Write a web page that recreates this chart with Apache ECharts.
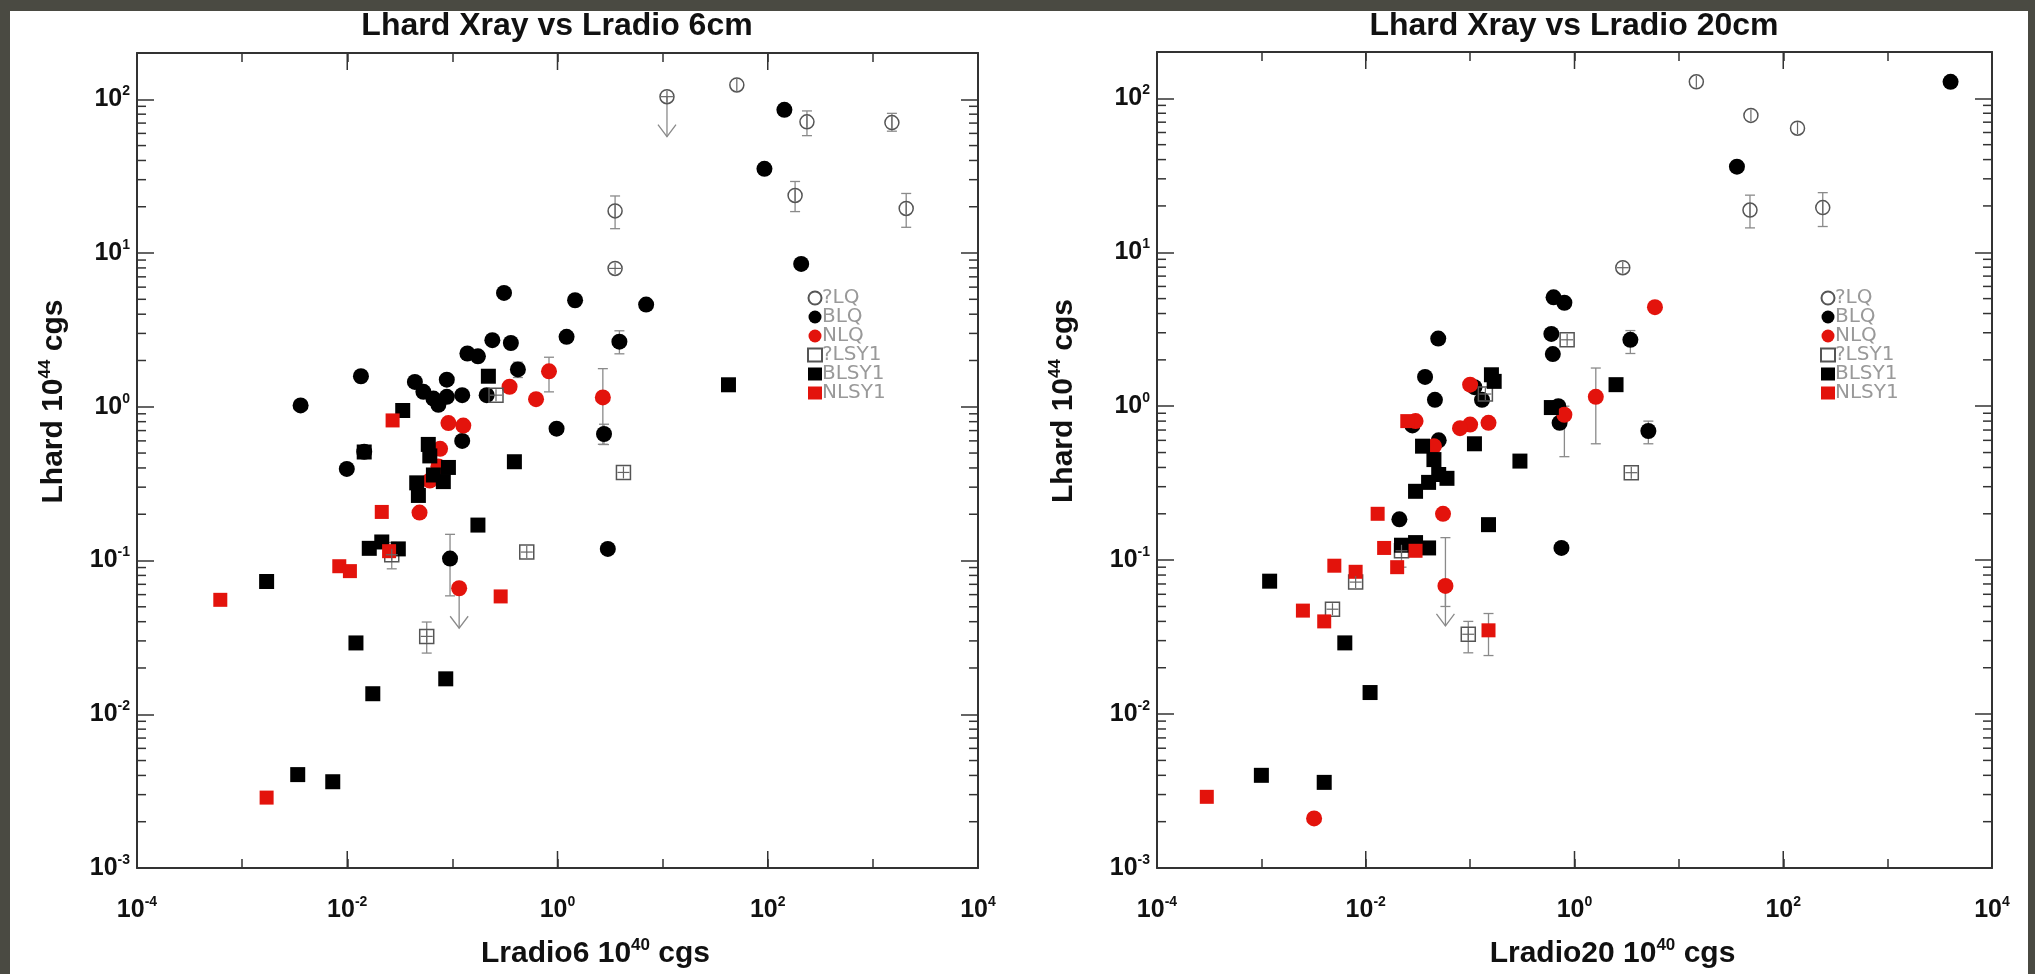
<!DOCTYPE html>
<html><head><meta charset="utf-8">
<script src="https://cdn.jsdelivr.net/npm/echarts@6/dist/echarts.min.js"></script>
<style>
html,body{margin:0;padding:0;width:2035px;height:974px;background:#4a4a42;overflow:hidden}
#paper{position:absolute;left:10px;top:11px;width:2018px;height:963px;background:#fff}
#chart{position:absolute;left:0;top:0;width:2035px;height:974px}
</style></head><body><div id="paper"></div><div id="chart"></div>
<script>
// ---------- data: Lhard (1e44 cgs) vs Lradio (1e40 cgs) ----------
const seriesNames = ['?LQ', 'BLQ', 'NLQ', '?LSY1', 'BLSY1', 'NLSY1'];
const titles = ['Lhard Xray vs Lradio 6cm', 'Lhard Xray vs Lradio 20cm'];
const xTitles = ['Lradio6 10', 'Lradio20 10'];
const xTitleExp = '40';
const yTitle = 'Lhard 10';
const yTitleExp = '44';

// 6 cm panel
const LQ6 = [[11.0,104],[50.8,124],[236,71.3],[1517,70.5],[182,23.7],[2075,19.5],[3.53,18.8],[3.53,7.94]];
const BLQ6 = [[144,85.4],[93,35.3],[208,8.5],[0.31,5.5],[1.47,4.93],[6.97,4.62],[1.22,2.85],[3.88,2.65],[0.24,2.71],[0.36,2.6],[0.139,2.22],[0.175,2.13],[0.42,1.75],[0.98,0.72],[2.77,0.665],[0.212,1.19],[0.124,1.19],[0.0885,1.5],[0.044,1.45],[0.053,1.25],[0.066,1.13],[0.0736,1.03],[0.0885,1.16],[0.124,0.6],[0.0135,1.58],[0.0036,1.02],[0.0099,0.394],[0.0145,0.51],[0.095,0.103],[3.01,0.119]];
const NLQ6 = [[0.83,1.70],[0.35,1.35],[0.625,1.12],[2.7,1.15],[0.0917,0.783],[0.127,0.754],[0.0764,0.533],[0.0736,0.409],[0.061,0.331],[0.0487,0.205],[0.116,0.066]];
const QLSY6 = [[0.26,1.19],[4.24,0.374],[0.51,0.1135],[0.0265,0.109],[0.057,0.0321]];
const BLSY6 = [[42.3,1.39],[0.22,1.58],[0.0337,0.946],[0.0145,0.508],[0.389,0.439],[0.059,0.569],[0.061,0.479],[0.0917,0.403],[0.0458,0.32],[0.082,0.326],[0.0475,0.265],[0.066,0.36],[0.175,0.17],[0.0162,0.12],[0.0213,0.132],[0.0306,0.119],[0.00171,0.073],[0.0121,0.0291],[0.0865,0.017],[0.0175,0.0136],[0.00338,0.00405],[0.00728,0.00364]];
const NLSY6 = [[0.027,0.815],[0.0213,0.207],[0.0084,0.0918],[0.0106,0.0853],[0.00062,0.0555],[0.288,0.0584],[0.00171,0.00287],[0.025,0.115]];
// error bars [x, y, low, high]
const ERR6 = [[236,71.3,58,84],[1517,70.5,62,81],[182,23.7,18.6,29.2],[2075,19.5,14.7,24.4],[3.53,18.8,14.4,23.5],[3.88,2.65,2.21,3.12],[0.83,1.70,1.25,2.1],[2.7,1.15,0.57,1.77],[2.77,0.665,0.568,0.77],[0.42,1.75,1.55,1.95],[0.095,0.103,0.0589,0.148],[0.0265,0.109,0.0883,0.131],[0.057,0.0321,0.025,0.0398]];
// upper limits [x, y]
const ULIM6 = [[11.0,104],[0.116,0.066]];
// open symbols drawn with a horizontal bar inside ([x, y])
const PLUS6 = [[11.0,104],[3.53,7.94]];

// 20 cm panel
const LQ20 = [[14.7,128],[49,77.5],[137,64],[2.9,7.94],[48,18.8],[239,19.5]];
const BLQ20 = [[4010,128],[36,36],[0.63,5.1],[0.8,4.7],[0.0495,2.75],[0.6,2.95],[0.62,2.18],[3.43,2.7],[0.11,1.33],[0.037,1.55],[0.13,1.1],[5.1,0.69],[0.75,0.12],[0.021,0.184],[0.7,1.0],[0.72,0.78],[0.028,0.75],[0.046,1.1],[0.05,0.6]];
const NLQ20 = [[5.9,4.4],[0.1,1.38],[0.15,0.78],[1.6,1.15],[0.1,0.76],[0.08,0.72],[0.045,0.55],[0.055,0.2],[0.058,0.068],[0.0032,0.0021],[0.8,0.88],[0.03,0.8]];
const QLSY20 = [[0.14,1.2],[0.85,2.7],[3.5,0.37],[0.022,0.115],[0.0048,0.048],[0.008,0.072],[0.096,0.033]];
const BLSY20 = [[2.5,1.38],[0.6,0.98],[0.11,0.57],[0.16,1.6],[0.17,1.45],[0.035,0.55],[0.04,0.32],[0.05,0.36],[0.06,0.34],[0.045,0.45],[0.03,0.28],[0.022,0.125],[0.03,0.13],[0.04,0.12],[0.15,0.17],[0.3,0.44],[0.0012,0.073],[0.0063,0.029],[0.011,0.0138],[0.001,0.004],[0.004,0.0036]];
const NLSY20 = [[0.0003,0.0029],[0.0025,0.047],[0.004,0.04],[0.005,0.092],[0.008,0.084],[0.015,0.12],[0.02,0.09],[0.15,0.035],[0.013,0.2],[0.025,0.8],[0.03,0.115]];
const ERR20 = [[48,18.8,14.4,23.5],[239,19.5,14.7,24.4],[3.43,2.7,2.2,3.1],[5.1,0.69,0.57,0.8],[1.6,1.15,0.57,1.77],[0.8,0.88,0.47,1.0],[0.022,0.115,0.09,0.13],[0.096,0.033,0.025,0.04],[0.15,0.035,0.024,0.045],[0.058,0.068,0.05,0.14]];
const ULIM20 = [[0.058,0.068]];
const PLUS20 = [[2.9,7.94]];

// axes ranges
const xRange = [1e-4, 1e4];
const yRange = [1e-3, 200];

// ---------- styling ----------
const FONT = 'Liberation Sans, Arial, Helvetica, sans-serif';
const RED = '#e3130c';
const GREY = '#8a8a8a';
const AXIS = '#333';

function expOf(v) { const e = Math.log10(v); const r = Math.round(e); return Math.abs(e - r) < 1e-6 ? r : null; }
const labelRich = {
  b: { fontSize: 25, fontWeight: 'bold', fontFamily: FONT, color: '#111', lineHeight: 30 },
  s: { fontSize: 14, fontWeight: 'bold', fontFamily: FONT, color: '#111', verticalAlign: 'top', lineHeight: 14 }
};
const nameRich = {
  t: { fontSize: 30, fontWeight: 'bold', fontFamily: FONT, color: '#111', lineHeight: 34 },
  s: { fontSize: 17, fontWeight: 'bold', fontFamily: FONT, color: '#111', verticalAlign: 'top', lineHeight: 17 }
};

function xAxes(g) {
  const base = {
    gridIndex: g, type: 'log', logBase: 10, min: xRange[0], max: xRange[1], splitNumber: 8,
    axisLine: { onZero: false, lineStyle: { color: AXIS, width: 2 } },
    axisTick: { inside: true, length: 9, lineStyle: { color: AXIS, width: 1.5 } },
    splitLine: { show: false }, minorTick: { show: false }
  };
  return [
    Object.assign({}, base, {
      position: 'bottom',
      axisLabel: { margin: 27, formatter: v => { const e = expOf(v); return (e === null || e % 2) ? '' : '{b|10}{s|' + e + '}'; }, rich: labelRich },
      name: '{t|' + xTitles[g] + '}{s|' + xTitleExp + '}{t| cgs}', nameLocation: 'middle', nameGap: 69,
      nameTextStyle: { rich: nameRich, padding: [0, 0, 0, 76] }
    }),
    Object.assign({}, base, { position: 'top', axisLabel: { show: false } })
  ];
}
function yAxes(g) {
  const base = {
    gridIndex: g, type: 'log', logBase: 10, min: yRange[0], max: yRange[1], splitNumber: 5,
    axisLine: { onZero: false, lineStyle: { color: AXIS, width: 2 } },
    axisTick: { inside: true, length: 17, lineStyle: { color: AXIS, width: 1.5 } },
    splitLine: { show: false }, minorTick: { show: false }
  };
  return [
    Object.assign({}, base, {
      position: 'left',
      axisLabel: { margin: 7, formatter: v => { const e = expOf(v); return e === null ? '' : '{b|10}{s|' + e + '}'; }, rich: labelRich },
      name: '{t|' + yTitle + '}{s|' + yTitleExp + '}{t| cgs}', nameLocation: 'middle', nameGap: g === 0 ? 66 : 76,
      nameTextStyle: { rich: nameRich, padding: [0, 0, 0, 118] }
    }),
    Object.assign({}, base, { position: 'right', axisLabel: { show: false } })
  ];
}

// tick decorations (log minor ticks on y, long ticks at labelled x decades)
const yMinorVals = [];
for (let k = -3; k <= 2; k++) for (let m = 2; m <= 9; m++) { const v = m * Math.pow(10, k); if (v < yRange[1]) yMinorVals.push([1, v]); }
const xLongVals = [];
for (let k = -4; k <= 4; k += 2) xLongVals.push([Math.pow(10, k), 1]);

const tickStyle = { stroke: AXIS, lineWidth: 1.5 };
function yMinorItem(params, api) {
  const cs = params.coordSys; const y = api.coord([1, api.value(1)])[1]; const L = 9;
  return { type: 'group', children: [
    { type: 'line', shape: { x1: cs.x, y1: y, x2: cs.x + L, y2: y }, style: tickStyle },
    { type: 'line', shape: { x1: cs.x + cs.width - L, y1: y, x2: cs.x + cs.width, y2: y }, style: tickStyle }
  ] };
}
function xLongItem(params, api) {
  const cs = params.coordSys; const x = api.coord([api.value(0), 1])[0]; const L = 17;
  return { type: 'group', children: [
    { type: 'line', shape: { x1: x, y1: cs.y + cs.height, x2: x, y2: cs.y + cs.height - L }, style: tickStyle },
    { type: 'line', shape: { x1: x, y1: cs.y, x2: x, y2: cs.y + L }, style: tickStyle }
  ] };
}
const barStyle = { stroke: GREY, lineWidth: 1.3, fill: null };
function errItem(params, api) {
  const x = api.value(0);
  const a = api.coord([x, api.value(3)]), b = api.coord([x, api.value(2)]); const c = 5;
  return { type: 'group', children: [
    { type: 'line', shape: { x1: a[0], y1: a[1], x2: b[0], y2: b[1] }, style: barStyle },
    { type: 'line', shape: { x1: a[0] - c, y1: a[1], x2: a[0] + c, y2: a[1] }, style: barStyle },
    { type: 'line', shape: { x1: b[0] - c, y1: b[1], x2: b[0] + c, y2: b[1] }, style: barStyle }
  ] };
}
function ulimItem(params, api) {
  const p = api.coord([api.value(0), api.value(1)]); const L = 40, w = 9, h = 12;
  return { type: 'group', children: [
    { type: 'line', shape: { x1: p[0], y1: p[1], x2: p[0], y2: p[1] + L }, style: barStyle },
    { type: 'polyline', shape: { points: [[p[0] - w, p[1] + L - h], [p[0], p[1] + L], [p[0] + w, p[1] + L - h]] }, style: barStyle }
  ] };
}
function vInner(params, api) {
  const p = api.coord([api.value(0), api.value(1)]); const r = 6;
  return { type: 'line', shape: { x1: p[0], y1: p[1] - r, x2: p[0], y2: p[1] + r }, style: { stroke: '#666', lineWidth: 1.2 } };
}
function hInner(params, api) {
  const p = api.coord([api.value(0), api.value(1)]); const r = 6;
  return { type: 'line', shape: { x1: p[0] - r, y1: p[1], x2: p[0] + r, y2: p[1] }, style: { stroke: '#666', lineWidth: 1.2 } };
}

const symDefs = {
  '?LQ': { symbol: 'circle', symbolSize: 14, itemStyle: { color: 'rgba(255,255,255,0)', borderColor: '#555', borderWidth: 1.5, opacity: 1 } },
  'BLQ': { symbol: 'circle', symbolSize: 16, itemStyle: { color: '#000', opacity: 1 } },
  'NLQ': { symbol: 'circle', symbolSize: 16, itemStyle: { color: RED, opacity: 1 } },
  '?LSY1': { symbol: 'rect', symbolSize: 14, itemStyle: { color: 'rgba(255,255,255,0)', borderColor: '#555', borderWidth: 1.5, opacity: 1 } },
  'BLSY1': { symbol: 'rect', symbolSize: 15, itemStyle: { color: '#000', opacity: 1 } },
  'NLSY1': { symbol: 'rect', symbolSize: 14, itemStyle: { color: RED, opacity: 1 } }
};

const panels = [
  { sets: [LQ6, BLQ6, NLQ6, QLSY6, BLSY6, NLSY6], err: ERR6, ulim: ULIM6, plus: PLUS6.concat(QLSY6) },
  { sets: [LQ20, BLQ20, NLQ20, QLSY20, BLSY20, NLSY20], err: ERR20, ulim: ULIM20, plus: PLUS20.concat(QLSY20) }
];

const series = [];
panels.forEach((p, g) => {
  const ax = { xAxisIndex: 2 * g, yAxisIndex: 2 * g };
  const cust = (data, fn, z) => Object.assign({ type: 'custom', data, renderItem: fn, silent: true, clip: false, z }, ax);
  series.push(cust(yMinorVals, yMinorItem, 1));
  series.push(cust(xLongVals, xLongItem, 1));
  series.push(cust(p.err, errItem, 2));
  series.push(cust(p.ulim, ulimItem, 2));
  series.push(cust(p.sets[0].concat(p.sets[3]), vInner, 4));
  series.push(cust(p.plus, hInner, 4));
  p.sets.forEach((d, i) => {
    series.push(Object.assign({ type: 'scatter', name: seriesNames[i], data: d, z: 3, emphasis: { disabled: true } }, symDefs[seriesNames[i]], ax));
  });
});

const legendBase = {
  orient: 'vertical', itemWidth: 14, itemHeight: 13, itemGap: -1, padding: 0, selectedMode: false,
  textStyle: { fontSize: 20, color: '#999', fontFamily: 'DejaVu Sans, sans-serif', padding: [0, 0, 0, -5] },
  data: seriesNames
};

const option = {
  backgroundColor: 'transparent',
  animation: false,
  title: titles.map((t, i) => ({
    text: t, left: i === 0 ? 557 : 1574, top: 10, textAlign: 'center', padding: 0,
    textStyle: { fontSize: 32, fontWeight: 'bold', fontFamily: FONT, color: '#111' }
  })),
  legend: [Object.assign({ left: 807, top: 288 }, legendBase), Object.assign({ left: 1820, top: 288 }, legendBase)],
  grid: [
    { left: 137, top: 53, width: 841, height: 825 },
    { left: 1157, top: 52, width: 835, height: 826 }
  ],
  xAxis: xAxes(0).concat(xAxes(1)),
  yAxis: yAxes(0).concat(yAxes(1)),
  series
};
const chart = echarts.init(document.getElementById('chart'), null, { renderer: 'canvas' });
chart.setOption(option);
</script></body></html>
